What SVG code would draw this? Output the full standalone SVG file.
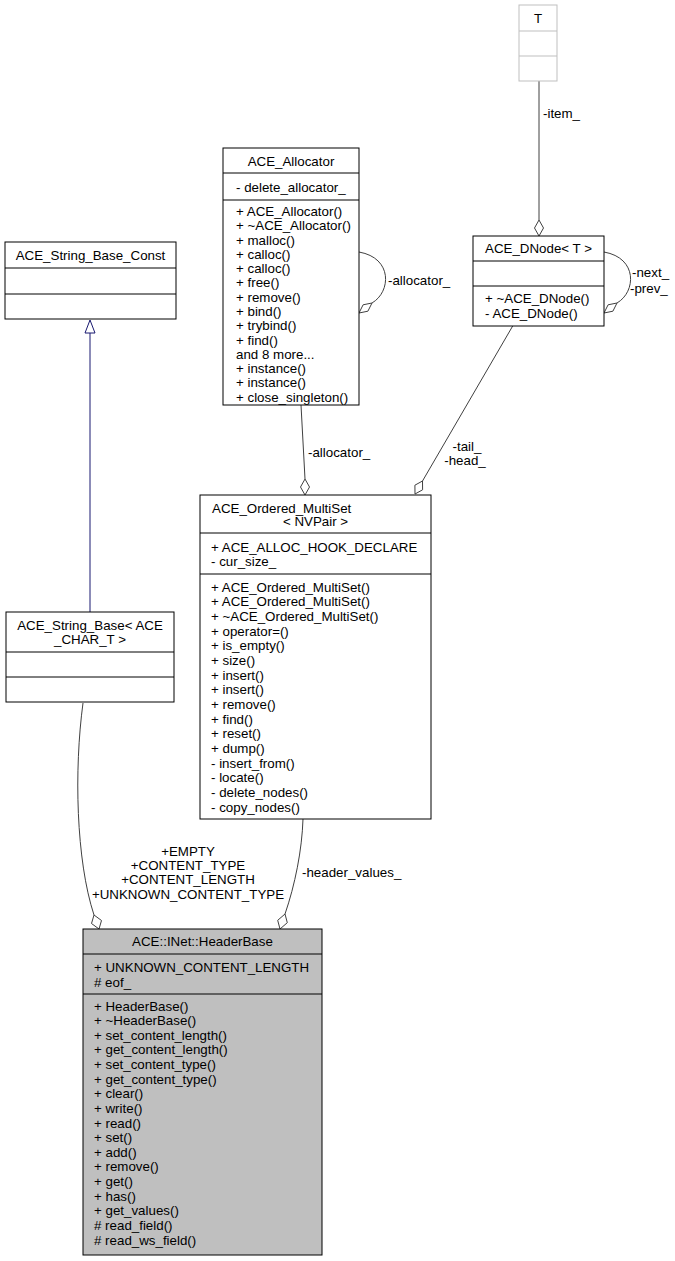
<svg xmlns="http://www.w3.org/2000/svg" width="675" height="1261" viewBox="0 0 675 1261">
<style>
text{font-family:"Liberation Sans",Arial,sans-serif;font-size:13.33px;fill:#000}
.c{text-anchor:middle}
.box{fill:#fff;stroke:#000;stroke-width:1}
.grey{fill:#fff;stroke:#bfbfbf;stroke-width:1}
.hb{fill:#bfbfbf;stroke:#000;stroke-width:1}
.e{fill:none;stroke:#404040;stroke-width:1}
.d{fill:#fff;stroke:#404040;stroke-width:1}
.inh{fill:none;stroke:#191970;stroke-width:1}
.tri{fill:#fff;stroke:#191970;stroke-width:1}
</style>
<rect width="675" height="1261" fill="#fff"/>
<g id="connectors">
<path class="inh" d="M90,333 L90,612"/>
<polygon class="tri" points="90,320 85,333 95,333"/>
<path class="e" d="M539,81 L539,220"/>
<polygon class="d" points="539,236 543.5,228 539,220 534.5,228"/>
<text x="543" y="118">-item_</text>
<path class="e" d="M604,252 C638,258 636,292 617,303"/>
<polygon class="d" points="604,313 612.9,311.2 617,303 608.1,304.8"/>
<text x="632" y="277">-next_</text>
<text x="630" y="293">-prev_</text>
<path class="e" d="M359,252 C393,258 391,292 372,303"/>
<polygon class="d" points="359,313 367.9,311.2 372,303 363.1,304.8"/>
<text x="388" y="285">-allocator_</text>
<path class="e" d="M301,405 L305,479"/>
<polygon class="d" points="305,495 309.5,487 305,479 300.5,487"/>
<text x="308" y="457">-allocator_</text>
<path class="e" d="M512.7,326 L422.5,481"/>
<polygon class="d" points="415,494 422.6,489.8 422.5,481 414.9,485.2"/>
<text class="c" x="467" y="451">-tail_</text>
<text class="c" x="465" y="465">-head_</text>
<path class="e" d="M83,703 C74,770 76,860 94,915"/>
<polygon class="d" points="99,929 101.5,920.5 94,915 91.5,923.5"/>
<text class="c" x="188" y="856">+EMPTY</text>
<text class="c" x="188" y="870">+CONTENT_TYPE</text>
<text class="c" x="188" y="884">+CONTENT_LENGTH</text>
<text class="c" x="188" y="899">+UNKNOWN_CONTENT_TYPE</text>
<path class="e" d="M303,819 C302,850 295,885 285,914"/>
<polygon class="d" points="280,929 287.3,922.7 285,914 277.7,920.3"/>
<text x="302" y="877">-header_values_</text>
</g>
<g id="node_T">
<rect class="grey" x="519" y="5" width="38" height="76"/>
<line class="grey" x1="519" y1="31" x2="557" y2="31"/>
<line class="grey" x1="519" y1="56" x2="557" y2="56"/>
<text class="c" x="538" y="23">T</text>
</g>
<g id="node_DNode">
<rect class="box" x="473" y="236" width="131" height="90"/>
<line class="box" x1="473" y1="261" x2="604" y2="261"/>
<line class="box" x1="473" y1="286" x2="604" y2="286"/>
<text class="c" x="538.5" y="253">ACE_DNode&lt; T &gt;</text>
<text x="485" y="303">+ ~ACE_DNode()</text>
<text x="485" y="318">- ACE_DNode()</text>
</g>
<g id="node_Allocator">
<rect class="box" x="223" y="148" width="136" height="257"/>
<line class="box" x1="223" y1="173" x2="359" y2="173"/>
<line class="box" x1="223" y1="200" x2="359" y2="200"/>
<text class="c" x="291" y="165.5">ACE_Allocator</text>
<text x="236" y="192">- delete_allocator_</text>
<text x="236" y="216">+ ACE_Allocator()</text>
<text x="236" y="230.3">+ ~ACE_Allocator()</text>
<text x="236" y="244.6">+ malloc()</text>
<text x="236" y="258.8">+ calloc()</text>
<text x="236" y="273.1">+ calloc()</text>
<text x="236" y="287.4">+ free()</text>
<text x="236" y="301.7">+ remove()</text>
<text x="236" y="316">+ bind()</text>
<text x="236" y="330.2">+ trybind()</text>
<text x="236" y="344.5">+ find()</text>
<text x="236" y="358.8">and 8 more...</text>
<text x="236" y="373.1">+ instance()</text>
<text x="236" y="387.4">+ instance()</text>
<text x="236" y="401.6">+ close_singleton()</text>
</g>
<g id="node_StringBaseConst">
<rect class="box" x="5" y="242" width="171" height="77"/>
<line class="box" x1="5" y1="268" x2="176" y2="268"/>
<line class="box" x1="5" y1="294" x2="176" y2="294"/>
<text class="c" x="90.5" y="259.5">ACE_String_Base_Const</text>
</g>
<g id="node_StringBase">
<rect class="box" x="6" y="612" width="168" height="90"/>
<line class="box" x1="6" y1="652" x2="174" y2="652"/>
<line class="box" x1="6" y1="677" x2="174" y2="677"/>
<text class="c" x="90" y="629.5">ACE_String_Base&lt; ACE</text>
<text class="c" x="90" y="643.5">_CHAR_T &gt;</text>
</g>
<g id="node_MultiSet">
<rect class="box" x="200" y="495" width="231" height="324"/>
<line class="box" x1="200" y1="533" x2="431" y2="533"/>
<line class="box" x1="200" y1="574" x2="431" y2="574"/>
<text x="212" y="512.5">ACE_Ordered_MultiSet</text>
<text class="c" x="315.5" y="525.5">&lt; NVPair &gt;</text>
<text x="211" y="551.5">+ ACE_ALLOC_HOOK_DECLARE</text>
<text x="211" y="565.5">- cur_size_</text>
<text x="211" y="591.5">+ ACE_Ordered_MultiSet()</text>
<text x="211" y="606.2">+ ACE_Ordered_MultiSet()</text>
<text x="211" y="620.8">+ ~ACE_Ordered_MultiSet()</text>
<text x="211" y="635.5">+ operator=()</text>
<text x="211" y="650.2">+ is_empty()</text>
<text x="211" y="664.9">+ size()</text>
<text x="211" y="679.5">+ insert()</text>
<text x="211" y="694.2">+ insert()</text>
<text x="211" y="708.9">+ remove()</text>
<text x="211" y="723.5">+ find()</text>
<text x="211" y="738.2">+ reset()</text>
<text x="211" y="752.9">+ dump()</text>
<text x="211" y="767.5">- insert_from()</text>
<text x="211" y="782.2">- locate()</text>
<text x="211" y="796.9">- delete_nodes()</text>
<text x="211" y="811.5">- copy_nodes()</text>
</g>
<g id="node_HeaderBase">
<rect class="hb" x="83" y="929" width="239" height="326"/>
<line class="hb" x1="83" y1="954" x2="322" y2="954"/>
<line class="hb" x1="83" y1="994" x2="322" y2="994"/>
<text class="c" x="202.5" y="945.5">ACE::INet::HeaderBase</text>
<text x="94" y="971.5">+ UNKNOWN_CONTENT_LENGTH</text>
<text x="94" y="986.5"># eof_</text>
<text x="94" y="1010.5">+ HeaderBase()</text>
<text x="94" y="1025.1">+ ~HeaderBase()</text>
<text x="94" y="1039.8">+ set_content_length()</text>
<text x="94" y="1054.4">+ get_content_length()</text>
<text x="94" y="1069">+ set_content_type()</text>
<text x="94" y="1083.7">+ get_content_type()</text>
<text x="94" y="1098.3">+ clear()</text>
<text x="94" y="1112.9">+ write()</text>
<text x="94" y="1127.5">+ read()</text>
<text x="94" y="1142.2">+ set()</text>
<text x="94" y="1156.8">+ add()</text>
<text x="94" y="1171.4">+ remove()</text>
<text x="94" y="1186.1">+ get()</text>
<text x="94" y="1200.7">+ has()</text>
<text x="94" y="1215.3">+ get_values()</text>
<text x="94" y="1229.9"># read_field()</text>
<text x="94" y="1244.6"># read_ws_field()</text>
</g>
</svg>
